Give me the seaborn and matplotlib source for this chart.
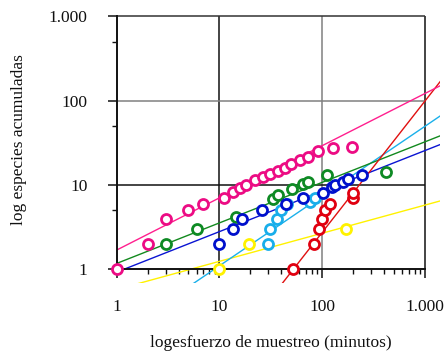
import numpy as np
import pandas as pd
import matplotlib
matplotlib.use("Agg")
import matplotlib.pyplot as plt
import seaborn as sns
from matplotlib.ticker import FixedLocator, FixedFormatter, NullFormatter

# Sampling effort (minutes) vs accumulated species, one pair of lists per series
pink_x = [1, 2, 3, 5, 7, 11, 13.7, 15.9, 18.3, 22, 26.8, 31, 37.5, 43.5, 50, 61, 73.5, 92, 128, 194]
pink_y = [1, 2, 4, 5, 6, 7, 8.2, 9.2, 10, 11.5, 12.6, 13.5, 14.7, 16, 18, 20, 21.8, 25.5, 27.4, 28.6]

green_x = [3, 6, 14.5, 33.5, 37.5, 50.6, 65.6, 73, 112, 419]
green_y = [2, 3, 4.2, 6.8, 7.7, 8.9, 10.3, 11, 13.2, 14.2]

blue_x = [10, 13.7, 16.5, 25.8, 45, 64.7, 103, 124, 134, 161, 180, 243]
blue_y = [2, 3, 4, 5, 6, 7, 8, 9.4, 10, 11, 11.7, 13.2]

cyan_x = [30, 31, 36, 40, 46, 76, 85]
cyan_y = [2, 3, 4, 5, 6, 6.3, 7]

red_x = [52, 83, 94, 99, 107, 119, 199, 201]
red_y = [1, 2, 3, 4, 5, 6, 7, 8]

yellow_x = [10, 19.5, 171]
yellow_y = [1, 2, 3]

# Power-law fits  y = a * x**b  for each series
series_names = ["yellow", "cyan", "green", "blue", "red", "pink"]
fit_a = [0.58, 0.165, 1.18, 0.93, 0.00213, 1.70]
fit_b = [0.333, 0.826, 0.48, 0.48, 1.555, 0.618]

line_colors = ["#FFF200", "#1AB0EA", "#12891E", "#0A14D2", "#E01010", "#FF1F8E"]
marker_colors = ["#FFF200", "#19AEEA", "#0E8A24", "#0010CC", "#E00010", "#EC0C84"]

x_ticks = [1, 10, 100, 1000]
x_tick_labels = ["1", "10", "100", "1.000"]
y_ticks = [1, 10, 100, 1000]
y_tick_labels = ["1", "10", "100", "1.000"]

points = {
    "yellow": (yellow_x, yellow_y),
    "cyan": (cyan_x, cyan_y),
    "green": (green_x, green_y),
    "blue": (blue_x, blue_y),
    "red": (red_x, red_y),
    "pink": (pink_x, pink_y),
}

sns.set_style("white")
plt.rcParams["font.family"] = ["Liberation Serif", "DejaVu Serif"]

fig = plt.figure(figsize=(4.46, 3.57), dpi=100)
ax = fig.add_axes([116.7 / 446, (357 - 283) / 357, (440 - 116.7) / 446, (283 - 16.3) / 357])
ax.set_xscale("log")
ax.set_yscale("log")
ax.set_xlim(1, 10 ** ((440 - 116.7) / 102.7))
ax.set_ylim(10 ** (-(283 - 269.5) / 84.3), 1000)

# box and inner grid restricted to the 1..1000 square
ax.vlines([10, 100, 1000], 1, 1000, colors=["#111111", "#808080", "#111111"],
          linewidth=1.1, clip_on=False, zorder=1)
ax.hlines([10, 100, 1000], 1, 1000, colors=["#111111", "#808080", "#333333"],
          linewidth=1.1, clip_on=False, zorder=1)

# fitted lines
xs = np.geomspace(1, 2000, 300)
for name, a, b, col in zip(series_names, fit_a, fit_b, line_colors):
    fit = pd.DataFrame({"x": xs, "y": a * xs ** b})
    sns.lineplot(data=fit, x="x", y="y", ax=ax, color=col, linewidth=1.0, zorder=2,
                 estimator=None, sort=False)

# hollow circle markers
for i, (name, col) in enumerate(zip(series_names, marker_colors)):
    px, py = points[name]
    df = pd.DataFrame({"x": px, "y": py})
    sns.scatterplot(data=df, x="x", y="y", ax=ax, s=52, marker="o",
                    facecolor="white", edgecolor=col, linewidth=2.0,
                    clip_on=False, zorder=3 + i)

for s in ["top", "right"]:
    ax.spines[s].set_visible(False)
ax.spines["bottom"].set_position(("data", 1))
ax.spines["bottom"].set_bounds(1, 1000)
ax.spines["left"].set_bounds(1, 1000)
for s in ["bottom", "left"]:
    ax.spines[s].set_linewidth(1.4)
    ax.spines[s].set_color("#111111")

ax.xaxis.set_major_locator(FixedLocator(x_ticks))
ax.xaxis.set_major_formatter(FixedFormatter(x_tick_labels))
ax.xaxis.set_minor_locator(FixedLocator([m * d for d in (1, 10, 100) for m in range(2, 10)]))
ax.xaxis.set_minor_formatter(NullFormatter())
ax.yaxis.set_major_locator(FixedLocator(y_ticks))
ax.yaxis.set_major_formatter(FixedFormatter(y_tick_labels))
ax.yaxis.set_minor_locator(FixedLocator([5, 50, 500]))
ax.yaxis.set_minor_formatter(NullFormatter())

ax.tick_params(axis="both", which="major", direction="out", length=6.5, width=1.1,
               color="#111111", labelsize=12.5, labelcolor="#111111", pad=14.5)
ax.tick_params(axis="both", which="minor", direction="out", length=3.6, width=1.0,
               color="#111111")
ax.tick_params(axis="x", which="both", bottom=True, top=False)
ax.tick_params(axis="y", which="both", left=True, right=False)

ax.set_xlabel("logesfuerzo de muestreo (minutos)", fontsize=12.5, color="#111111")
ax.set_ylabel("log especies acumuladas", fontsize=12.5, color="#111111")
ax.xaxis.set_label_coords((271 - 116.7) / 323.3, (283 - 343) / 266.7)
ax.xaxis.label.set_verticalalignment("center")
ax.yaxis.set_label_coords((19 - 116.7) / 323.3, (283 - 140) / 266.7)
ax.yaxis.label.set_verticalalignment("center")

fig.savefig("out.png", dpi=100)
